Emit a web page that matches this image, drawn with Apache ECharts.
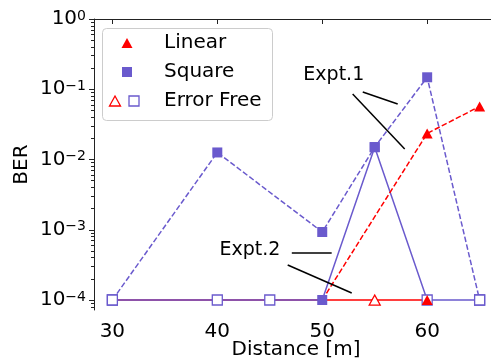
<!DOCTYPE html>
<html>
<head>
<meta charset="utf-8">
<script src="https://cdn.jsdelivr.net/npm/echarts@6/dist/echarts.min.js"></script>
<style>
  html, body { margin: 0; padding: 0; background: #fff; }
  #chart { width: 491px; height: 364px; }
</style>
</head>
<body>
<div id="chart"></div>
<script>
const distances = [30, 40, 45, 50, 55, 60, 65]

// Expt.1 (dashed) and Expt.2 (solid), BER per distance, null = not measured
const linearExpt1 = [null, null, null, 1e-4, null, 0.0235, 0.057]
const squareExpt1 = [1e-4, 0.0126, null, 9.3e-4, 0.015, 0.148, 1e-4]
const linearExpt2 = [1e-4, 1e-4, 1e-4, 1e-4, 1e-4, 1e-4, null]
const squareExpt2 = [1e-4, 1e-4, 1e-4, 1e-4, 0.015, 1e-4, 1e-4]

// marker per point: 'f' = measured (filled), 'o' = error free (open), '' = none
const linearExpt1Marks = ['', '', '', '', '', 'f', 'f']
const squareExpt1Marks = ['o', 'f', '', 'f', 'f', 'f', 'o']
const linearExpt2Marks = ['', '', '', '', 'o', 'f', '']
const squareExpt2Marks = ['o', 'o', 'o', 'f', 'f', 'o', 'o']

const xTicks = [30, 40, 50, 60]
const yTickExps = [-4, -3, -2, -1, 0]
const xRange = [28.25, 66.75]
const yRange = [-4.142, 0] // log10(BER)

const noteLabels = ['Expt.1', 'Expt.2']
const notePos = [[51.1, 0.16], [43.1, 5.15e-4]]
const noteLines = [
  [[[53.86, 0.0914], [57.19, 0.0617]], [[52.9, 0.0856], [57.86, 0.0141]]],
  [[[47.1, 4.67e-4], [50.9, 4.67e-4]], [[46.71, 3.15e-4], [52.81, 1.26e-4]]]
]

const RED = '#ff0000'
const PURPLE = '#6a5acd'
const FONT = 'DejaVu Sans'

function linePoints(values) {
  const out = []
  values.forEach((v, i) => {
    if (v !== null) out.push([distances[i], Math.log10(v)])
  })
  return out
}

function markPoints(pairs, kind) {
  const out = []
  pairs.forEach(([values, marks]) => {
    values.forEach((v, i) => {
      if (v !== null && marks[i] === kind) out.push([distances[i], Math.log10(v)])
    })
  })
  return out
}

const minorTicks = []
for (let e = -5; e < 0; e++) {
  for (let k = 2; k <= 9; k++) {
    const t = e + Math.log10(k)
    if (t >= yRange[0] && t <= yRange[1]) minorTicks.push(t)
  }
}

const lineSeries = (values, color, dashed) => ({
  type: 'line',
  data: linePoints(values),
  symbol: 'none',
  lineStyle: { color: color, width: 1.5, type: dashed ? [5.5, 2.4] : 'solid' },
  z: 2
})

const chart = echarts.init(document.getElementById('chart'))
chart.setOption({
  animation: false,
  // plot runs past the right edge of the picture, as in the original figure
  grid: { left: 94, top: 19, width: 404, height: 291, outerBoundsMode: 'none', containLabel: false },
  xAxis: [{
    type: 'value',
    min: xRange[0],
    max: xRange[1],
    name: 'Distance [m]',
    nameLocation: 'middle',
    nameGap: 30,
    nameMoveOverlap: false,
    nameTextStyle: { fontFamily: FONT, fontSize: 20, color: '#000' },
    axisLine: { lineStyle: { color: '#222', width: 1 } },
    axisTick: { customValues: xTicks, length: 5, lineStyle: { color: '#222' } },
    axisLabel: { customValues: xTicks, fontFamily: FONT, fontSize: 20, color: '#000', margin: 12 },
    splitLine: { show: false }
  }, {
    type: 'value',
    position: 'top',
    min: xRange[0],
    max: xRange[1],
    axisLine: { show: true, lineStyle: { color: '#222', width: 1 } },
    axisTick: { show: false },
    axisLabel: { show: false },
    splitLine: { show: false }
  }],
  yAxis: [{
    type: 'value',
    min: yRange[0],
    max: yRange[1],
    name: 'BER',
    nameLocation: 'middle',
    nameGap: 62,
    nameMoveOverlap: false,
    nameTextStyle: { fontFamily: FONT, fontSize: 20, color: '#000' },
    axisLine: { show: true, lineStyle: { color: '#222', width: 1 } },
    axisTick: { customValues: yTickExps, length: 5, lineStyle: { color: '#222' } },
    axisLabel: {
      customValues: yTickExps,
      margin: 8,
      formatter: v => '{b|10}{s|' + (v < 0 ? '\u2212' + (-v) : v) + '}',
      rich: {
        b: { fontFamily: FONT, fontSize: 20, lineHeight: 20, color: '#000' },
        s: { fontFamily: FONT, fontSize: 14, lineHeight: 12, verticalAlign: 'top', color: '#000' }
      }
    },
    splitLine: { show: false }
  }, {
    type: 'value',
    position: 'left',
    min: yRange[0],
    max: yRange[1],
    axisLine: { show: false },
    axisTick: { customValues: minorTicks, length: 3, lineStyle: { color: '#222' } },
    axisLabel: { show: false },
    splitLine: { show: false }
  }],
  series: [
    lineSeries(linearExpt2, RED, false),
    lineSeries(squareExpt2, PURPLE, false),
    lineSeries(linearExpt1, RED, true),
    lineSeries(squareExpt1, PURPLE, true),
    {
      type: 'scatter',
      data: markPoints([[squareExpt1, squareExpt1Marks], [squareExpt2, squareExpt2Marks]], 'o'),
      symbol: 'rect',
      symbolSize: 10,
      itemStyle: { color: '#fff', borderColor: PURPLE, borderWidth: 1.3, opacity: 1 },
      z: 3
    },
    {
      type: 'scatter',
      data: markPoints([[squareExpt1, squareExpt1Marks], [squareExpt2, squareExpt2Marks]], 'f'),
      symbol: 'rect',
      symbolSize: 10,
      itemStyle: { color: PURPLE, opacity: 1 },
      z: 4
    },
    {
      type: 'scatter',
      data: markPoints([[linearExpt1, linearExpt1Marks], [linearExpt2, linearExpt2Marks]], 'o'),
      symbol: 'triangle',
      symbolSize: [11, 10],
      itemStyle: { color: '#fff', borderColor: RED, borderWidth: 1.3, opacity: 1 },
      z: 5
    },
    {
      type: 'scatter',
      data: markPoints([[linearExpt1, linearExpt1Marks], [linearExpt2, linearExpt2Marks]], 'f'),
      symbol: 'triangle',
      symbolSize: [11, 10],
      itemStyle: { color: RED, opacity: 1 },
      z: 6
    },
    {
      // annotation texts and their pointer lines
      type: 'scatter',
      silent: true,
      symbolSize: 1,
      itemStyle: { color: 'rgba(0,0,0,0)', opacity: 1 },
      data: noteLabels.map((t, i) => ({ name: t, value: [notePos[i][0], Math.log10(notePos[i][1])] })),
      label: {
        show: true,
        position: 'inside',
        formatter: '{b}',
        fontFamily: FONT,
        fontSize: 19,
        color: '#000'
      },
      markLine: {
        silent: true,
        symbol: ['none', 'none'],
        label: { show: false },
        lineStyle: { color: '#000', width: 1.5, type: 'solid', opacity: 1 },
        data: noteLines.flat().map(seg => seg.map(p => ({ coord: [p[0], Math.log10(p[1])] })))
      },
      z: 7
    }
  ],
  graphic: [{
    type: 'group',
    z: 100,
    children: [
      {
        type: 'rect',
        shape: { x: 102.5, y: 28.5, width: 170, height: 92, r: 4 },
        style: { fill: 'rgba(255,255,255,0.8)', stroke: '#cccccc', lineWidth: 1 }
      },
      { type: 'polygon', shape: { points: [[127, 38], [132.5, 48], [121.5, 48]] }, style: { fill: RED } },
      { type: 'rect', shape: { x: 122, y: 67, width: 10, height: 10 }, style: { fill: PURPLE } },
      {
        type: 'polygon',
        shape: { points: [[115, 96], [120.5, 106], [109.5, 106]] },
        style: { fill: '#fff', stroke: RED, lineWidth: 1.3 }
      },
      {
        type: 'rect',
        shape: { x: 129, y: 96, width: 10, height: 10 },
        style: { fill: '#fff', stroke: PURPLE, lineWidth: 1.3 }
      },
      { type: 'text', style: { text: 'Linear', x: 164, y: 43, verticalAlign: 'middle', font: '20px "DejaVu Sans"', fill: '#000' } },
      { type: 'text', style: { text: 'Square', x: 164, y: 72, verticalAlign: 'middle', font: '20px "DejaVu Sans"', fill: '#000' } },
      { type: 'text', style: { text: 'Error Free', x: 164, y: 101, verticalAlign: 'middle', font: '20px "DejaVu Sans"', fill: '#000' } }
    ]
  }]
})
</script>
</body>
</html>
